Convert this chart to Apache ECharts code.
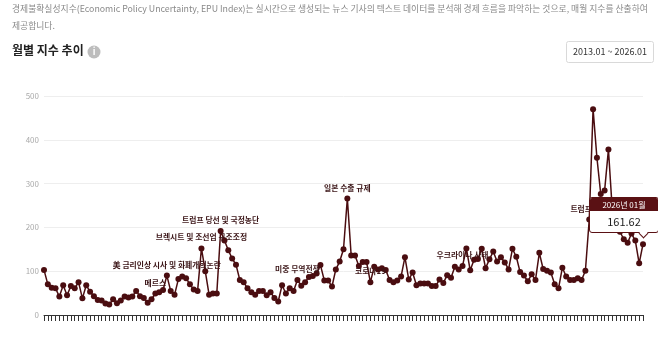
<!DOCTYPE html>
<html>
<head>
<meta charset="utf-8">
<script src="https://cdn.jsdelivr.net/npm/echarts@6/dist/echarts.min.js"></script>
<style>
  html, body { margin: 0; padding: 0; background: #fff; }
  #chart { width: 658px; height: 337px; }
</style>
</head>
<body>
<div id="chart"></div>
<script>
// Monthly EPU index, 2013.01 – 2026.01
const startYear = 2013;
const endYear = 2026;
const endMonth = 1;

const epu2013_2016 = [
  103, 70, 62, 61, 42, 68, 45, 66, 61, 75, 38, 68,
  53, 43, 34, 33, 26, 24, 36, 27, 33, 42, 40, 42,
  55, 43, 39, 28, 36, 49, 52, 57, 90, 55, 46, 82,
  88, 84, 70, 58, 55, 152, 100, 46, 49, 49, 192, 170
];
const epu2017_2020 = [
  148, 129, 115, 80, 75, 61, 52, 46, 55, 55, 45, 52,
  39, 31, 68, 49, 61, 55, 80, 67, 75, 87, 89, 95,
  114, 79, 79, 65, 104, 122, 150, 266, 136, 136, 112, 121,
  121, 75, 110, 104, 107, 103, 80, 75, 79, 88, 132, 81
];
const epu2021_2024 = [
  97, 68, 72, 72, 72, 66, 66, 81, 73, 91, 85, 110,
  104, 112, 152, 102, 126, 128, 151, 107, 127, 145, 122, 132,
  120, 104, 151, 133, 98, 90, 77, 93, 80, 142, 105, 101,
  97, 70, 61, 108, 88, 80, 80, 84, 80, 101, 218, 470
];
const epu2025_2026 = [
  359, 276, 284, 378, 240, 205, 190, 173, 165, 186, 170, 118,
  161.62
];

// Annotated events
const eventMonths = ['2015.06', '2015.09', '2016.06', '2016.11', '2018.07', '2019.08', '2020.02', '2022.02', '2024.11'];
const eventTexts = ['메르스', '美 금리인상 시사 및 화폐개혁논란', '브렉시트 및 조선업 구조조정', '트럼프 당선 및 국정농단', '미중 무역전쟁', '일본 수출 규제', '코로나19', '우크라이나 사태', '트럼프 재선'];

const yTicks = [0, 100, 200, 300, 400, 500];

const months = [];
for (let y = startYear; y <= endYear; y++) {
  for (let m = 1; m <= 12; m++) {
    if (y === endYear && m > endMonth) break;
    months.push(y + '.' + String(m).padStart(2, '0'));
  }
}
const values = [].concat(epu2013_2016, epu2017_2020, epu2021_2024, epu2025_2026);

const MAROON = '#4a0d10';
const FONT = '"Noto Sans CJK KR", "Noto Sans", sans-serif';

const seriesData = values.map((v, i) => {
  const k = eventMonths.indexOf(months[i]);
  if (k < 0) return v;
  return {
    value: v,
    label: {
      show: true,
      position: 'top',
      distance: 4,
      formatter: eventTexts[k],
      color: '#3a1416',
      fontSize: 7.8,
      fontWeight: 'bold',
      fontFamily: FONT
    }
  };
});

const chart = echarts.init(document.getElementById('chart'), null, { renderer: 'canvas' });

chart.setOption({
  animation: false,
  textStyle: { fontFamily: FONT },
  grid: { left: 44, right: 15, top: 96, bottom: 22, containLabel: false },
  graphic: [
    {
      type: 'text', left: 12, top: 4,
      style: {
        text: '경제불확실성지수(Economic Policy Uncertainty, EPU Index)는 실시간으로 생성되는 뉴스 기사의 텍스트 데이터를 분석해 경제 흐름을 파악하는 것으로, 매월 지수를 산출하여',
        fill: '#8a8a8a', font: '8.8px ' + FONT
      }
    },
    {
      type: 'text', left: 12, top: 21,
      style: { text: '제공합니다.', fill: '#8a8a8a', font: '8.8px ' + FONT }
    },
    {
      type: 'text', left: 12, top: 44,
      style: { text: '월별 지수 추이', fill: '#222', font: 'bold 12px ' + FONT }
    },
    {
      type: 'circle', shape: { cx: 94, cy: 52, r: 6.5 },
      style: { fill: '#bdbdbd' }
    },
    {
      type: 'text', x: 94, y: 52,
      style: { text: 'i', fill: '#fff', font: 'bold 9px ' + FONT, align: 'center', verticalAlign: 'middle' }
    },
    {
      type: 'rect', shape: { x: 566.5, y: 41.5, width: 87, height: 21, r: 2 },
      style: { fill: '#fff', stroke: '#d9d9d9', lineWidth: 1 }
    },
    {
      type: 'text', x: 610, y: 52,
      style: { text: months[0] + ' ~ ' + months[months.length - 1], fill: '#333', font: '9px ' + FONT, align: 'center', verticalAlign: 'middle' }
    }
  ],
  tooltip: {
    trigger: 'item',
    triggerOn: 'none',
    alwaysShowContent: true,
    transitionDuration: 0,
    padding: 0,
    borderWidth: 1,
    borderColor: '#5a1114',
    borderRadius: 3,
    backgroundColor: '#fff',
    extraCssText: 'box-shadow:none;overflow:visible;width:68px;',
    position: function (point) {
      return [point[0] - 54, point[1] - 47];
    },
    formatter: function (p) {
      const m = p.name.split('.');
      return '<div style="position:relative;">' +
        '<div style="background:#5a1114;color:#fff;font-size:8px;line-height:13px;text-align:center;border-radius:2px 2px 0 0;">' +
        m[0] + '년 ' + m[1] + '월</div>' +
        '<div style="color:#222;font-size:11px;line-height:21px;text-align:center;">' + p.value + '</div>' +
        '<div style="position:absolute;left:50px;bottom:-4.5px;width:6px;height:6px;background:#fff;' +
        'border-right:1px solid #5a1114;border-bottom:1px solid #5a1114;transform:rotate(45deg);"></div>' +
        '</div>';
    }
  },
  xAxis: {
    type: 'category',
    data: months,
    boundaryGap: false,
    axisLine: { show: true, lineStyle: { color: '#333', width: 1 } },
    axisTick: { show: true, interval: 0, length: 6, lineStyle: { color: '#333' } },
    axisLabel: { show: false },
    splitLine: { show: false }
  },
  yAxis: {
    type: 'value',
    min: yTicks[0],
    max: yTicks[yTicks.length - 1],
    interval: yTicks[1] - yTicks[0],
    axisLine: { show: false },
    axisTick: { show: false },
    axisLabel: { color: '#aaa', fontSize: 8, margin: 5, fontFamily: FONT },
    splitLine: { lineStyle: { color: '#eeeeee', width: 1 } }
  },
  series: [{
    type: 'line',
    data: seriesData,
    symbol: 'circle',
    symbolSize: 6,
    showAllSymbol: true,
    lineStyle: { color: MAROON, width: 1.5 },
    itemStyle: { color: MAROON },
    emphasis: { disabled: true }
  }]
});

chart.dispatchAction({ type: 'showTip', seriesIndex: 0, dataIndex: values.length - 1 });
</script>
</body>
</html>
